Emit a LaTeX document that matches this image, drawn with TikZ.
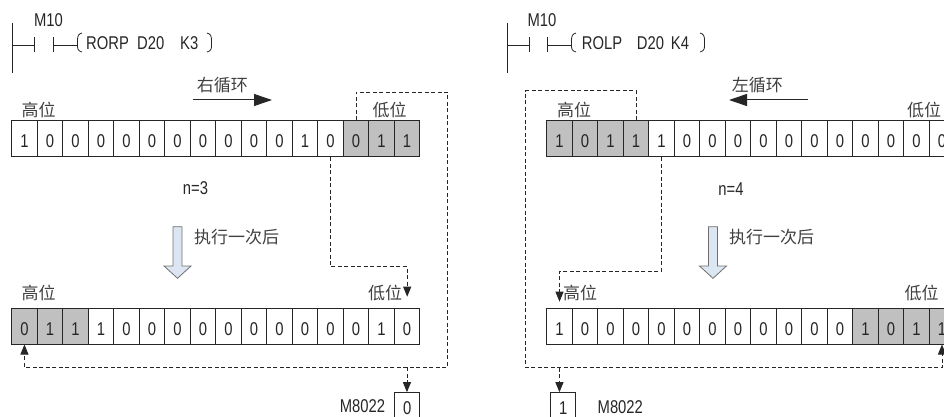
\documentclass[tikz,border=0pt]{standalone}
\usepackage{fontspec}
\setmainfont{Liberation Sans}[FakeStretch=0.8]
\newfontfamily\cjk{Noto Sans CJK SC}
\usetikzlibrary{arrows.meta}
\definecolor{ink}{HTML}{262626}
\definecolor{cjkink}{HTML}{404040}
\definecolor{shade}{HTML}{C0C0C0}
\definecolor{hollow}{HTML}{DCE6F2}
\definecolor{hollowedge}{HTML}{6F6F6F}
\newcommand{\celltext}[1]{\raisebox{-2.5pt}[\height][0pt]{#1}}
\begin{document}
\begin{tikzpicture}[x=1pt,y=-1pt,
  txt/.style={text=ink,font=\fontsize{18.5}{18.5}\selectfont,inner sep=0pt},
  lbl/.style={text=cjkink,font=\cjk\fontsize{17}{17}\selectfont,inner sep=0pt},
  cellw/.style={draw=ink,line width=1pt,minimum width=25.5pt,minimum height=35.7pt,inner sep=0pt,fill=white,text=ink,font=\fontsize{18.5}{18.5}\selectfont},
  cellg/.style={cellw,fill=shade},
  wire/.style={draw=ink,line width=1pt},
  dashline/.style={draw=ink,line width=0.9pt,dash pattern=on 4pt off 2.5pt},
  tip/.style={-{Triangle[length=10pt,width=8pt]}},
  bigtip/.style={-{Triangle[length=18pt,width=12pt]}},
  hollowarrow/.style={draw=hollowedge,fill=hollow,line width=0.8pt}
]
\useasboundingbox (0,0) rectangle (944,417);
\clip (0,0) rectangle (944,417);

% ---------------- left ladder ----------------
\draw[wire] (12.5,23) -- (12.5,73);
\draw[wire] (12.5,45.5) -- (34.5,45.5);
\draw[wire] (34.5,37) -- (34.5,52);
\draw[wire] (53.5,37) -- (53.5,52);
\draw[wire] (53.5,45.5) -- (77.5,45.5);
\draw[wire,line width=0.8pt] (82,33) .. controls (78.5,34) and (77.5,36) .. (77.5,40) -- (77.5,46) .. controls (77.5,49.5) and (78.5,51) .. (82,52);
\draw[wire,line width=0.8pt] (207,33) .. controls (210.5,34) and (211.5,36) .. (211.5,40) -- (211.5,46) .. controls (211.5,49.5) and (210.5,51) .. (207,52);
\node[txt] (Lm10) at (48.5,20.5) {M10};
\node[txt,anchor=west] (Lins) at (86,43.5) {\makebox[51pt][l]{RORP}\makebox[43pt][l]{D20}K3};

% ---------------- right ladder ----------------
\draw[wire] (507,23) -- (507,73);
\draw[wire] (507,45.5) -- (529.5,45.5);
\draw[wire] (529.5,37) -- (529.5,52);
\draw[wire] (547,37) -- (547,52);
\draw[wire] (547,45.5) -- (571.5,45.5);
\draw[wire,line width=0.8pt] (576,33) .. controls (572.5,34) and (571.5,36) .. (571.5,40) -- (571.5,46) .. controls (571.5,49.5) and (572.5,51) .. (576,52);
\draw[wire,line width=0.8pt] (700,33) .. controls (703.5,34) and (704.5,36) .. (704.5,40) -- (704.5,46) .. controls (704.5,49.5) and (703.5,51) .. (700,52);
\node[txt] (Rm10) at (542,20.5) {M10};
\node[txt,anchor=west] (Rins) at (581.7,43.5) {\makebox[55pt][l]{ROLP}\makebox[34pt][l]{D20}K4};

% ---------------- direction arrows ----------------
\node[lbl] (Lrot) at (222.4,85) {右循环};
\coordinate (LarS) at (193,100);
\coordinate (LarE) at (272,100);
\draw[wire,bigtip] (LarS) -- (LarE);
\node[lbl] (Rrot) at (757.4,85) {左循环};
\coordinate (RarS) at (808,100);
\coordinate (RarE) at (729,100);
\draw[wire,bigtip] (RarS) -- (RarE);

% ---------------- registers ----------------
\foreach \v/\s [count=\i from 0] in {1/cellw,0/cellw,0/cellw,0/cellw,0/cellw,0/cellw,0/cellw,0/cellw,0/cellw,0/cellw,0/cellw,1/cellw,0/cellw,0/cellg,1/cellg,1/cellg}
  \node[\s] (La\i) at ({11.7+25.5*\i+12.75},138.85) {\celltext{\v}};
\foreach \v/\s [count=\i from 0] in {0/cellg,1/cellg,1/cellg,1/cellw,0/cellw,0/cellw,0/cellw,0/cellw,0/cellw,0/cellw,0/cellw,0/cellw,0/cellw,0/cellw,1/cellw,0/cellw}
  \node[\s] (Lb\i) at ({11.7+25.5*\i+12.75},326.15) {\celltext{\v}};
\foreach \v/\s [count=\i from 0] in {1/cellg,0/cellg,1/cellg,1/cellg,1/cellw,0/cellw,0/cellw,0/cellw,0/cellw,0/cellw,0/cellw,0/cellw,0/cellw,0/cellw,0/cellw,0/cellw}
  \node[\s] (Ra\i) at ({546.7+25.5*\i+12.75},138.85) {\celltext{\v}};
\foreach \v/\s [count=\i from 0] in {1/cellw,0/cellw,0/cellw,0/cellw,0/cellw,0/cellw,0/cellw,0/cellw,0/cellw,0/cellw,0/cellw,0/cellw,1/cellg,0/cellg,1/cellg,1/cellg}
  \node[\s] (Rb\i) at ({546.7+25.5*\i+12.75},326.15) {\celltext{\v}};

% ---------------- high / low labels ----------------
\node[lbl] (LaHi) at (38.5,110) {高位};
\node[lbl] (LaLo) at (389.5,110) {低位};
\node[lbl] (LbHi) at (38.5,293) {高位};
\node[lbl] (LbLo) at (385,293) {低位};
\node[lbl] (RaHi) at (574,110) {高位};
\node[lbl] (RaLo) at (924,110) {低位};
\node[lbl] (RbHi) at (580,293) {高位};
\node[lbl] (RbLo) at (921.5,293) {低位};

% ---------------- n and execute arrows ----------------
\node[txt] (Ln) at (195.5,188) {n=3};
\node[txt] (Rn) at (731,189) {n=4};
\draw[hollowarrow] (173,226.7) -- (182,226.7) -- (182,266) -- (191,266) -- (177.5,278.3) -- (164,266) -- (173,266) -- cycle;
\draw[hollowarrow] (708.5,226.7) -- (717.5,226.7) -- (717.5,266) -- (726.5,266) -- (713,278.3) -- (699.5,266) -- (708.5,266) -- cycle;
\node[lbl,anchor=west] (Lexe) at (194,237) {执行一次后};
\node[lbl,anchor=west] (Rexe) at (729,237) {执行一次后};

% ---------------- M8022 flags ----------------
\node[cellw,minimum height=30pt,minimum width=25.5pt] (Lflag) at (407.2,407.7) {0};
\node[txt] (Lflagtxt) at (362.5,406.5) {M8022};
\node[cellw,minimum height=30pt,minimum width=25.3pt] (Rflag) at (563.3,407.7) {1};
\node[txt] (Rflagtxt) at (620.3,406.7) {M8022};

% ---------------- left dashed connectors ----------------
\coordinate (LTopR) at (447.5,92);
\coordinate (LBotR) at (447.5,367.3);
\draw[dashline,tip] (La13.north) |- (LTopR) -- (LBotR) -| (Lb0.south);
\draw[dashline,tip] (Lb15 |- LBotR) -- (Lb15 |- Lflag.north);
\coordinate (Lk) at (407.2,266.7);
\coordinate (LtipA) at (407.2,296.7);
\draw[dashline,tip] (La12.south) |- (Lk) -- (LtipA);

% ---------------- right dashed connectors ----------------
\coordinate (RTopL) at (525.7,90.7);
\coordinate (RBotL) at (525.7,367.7);
\draw[dashline,tip] (Ra3.north) |- (RTopL) -- (RBotL) -| (Rb15.south);
\draw[dashline,tip] (Rb0 |- RBotL) -- (Rb0 |- Rflag.north);
\coordinate (Rk) at (559.5,271);
\coordinate (RtipA) at (559.5,301.7);
\draw[dashline,tip] (Ra4.south) |- (Rk) -- (RtipA);
\end{tikzpicture}
\end{document}
